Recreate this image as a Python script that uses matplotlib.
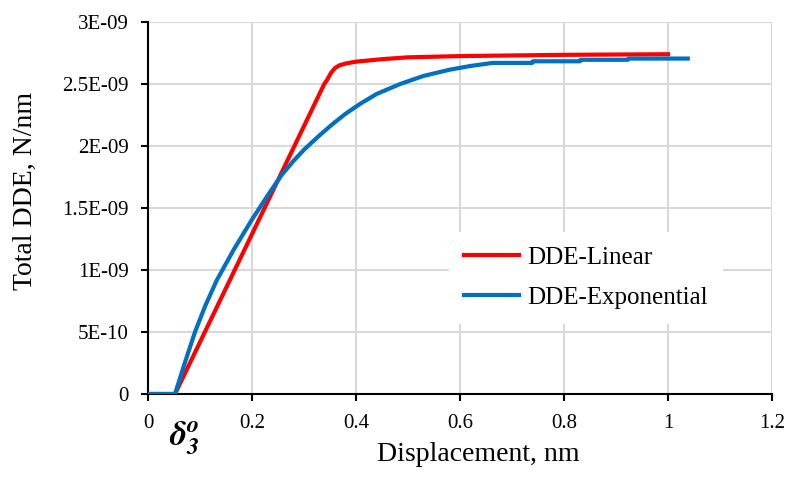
import numpy as np
import matplotlib.pyplot as plt

plt.rcParams['font.family'] = 'Liberation Serif'
plt.rcParams['mathtext.fontset'] = 'stix'

# displacement (nm) and total DDE (N/nm)
x_lin = [0, 0.052, 0.339, 0.344, 0.352, 0.360, 0.368, 0.38, 0.40, 0.45, 0.50, 0.60, 0.80, 1.0]
y_lin = [0, 0, 2.50e-9, 2.53e-9, 2.59e-9, 2.63e-9, 2.65e-9, 2.665e-9, 2.68e-9, 2.70e-9,
         2.715e-9, 2.725e-9, 2.735e-9, 2.74e-9]

x_exp = [0, 0.052, 0.07, 0.0904, 0.11, 0.132, 0.165, 0.1994, 0.23, 0.257, 0.28, 0.30,
         0.331, 0.356, 0.38, 0.408, 0.44, 0.485, 0.53, 0.58, 0.62, 0.663,
         0.739, 0.740, 0.831, 0.832, 0.923, 0.924, 1.038]
y_exp = [0, 0, 0.24e-9, 0.5e-9, 0.71e-9, 0.915e-9, 1.165e-9, 1.403e-9, 1.6e-9, 1.766e-9,
         1.88e-9, 1.97e-9, 2.09e-9, 2.18e-9, 2.26e-9, 2.34e-9, 2.42e-9, 2.50e-9, 2.565e-9,
         2.615e-9, 2.645e-9, 2.67e-9, 2.67e-9, 2.683e-9, 2.683e-9, 2.695e-9, 2.695e-9,
         2.705e-9, 2.705e-9]

yticks = [0, 0.5e-9, 1e-9, 1.5e-9, 2e-9, 2.5e-9, 3e-9]
ytick_labels = ['0', '5E-10', '1E-09', '1.5E-09', '2E-09', '2.5E-09', '3E-09']
xticks = [0, 0.2, 0.4, 0.6, 0.8, 1, 1.2]
xtick_labels = ['0', '0.2', '0.4', '0.6', '0.8', '1', '1.2']

fig = plt.figure(figsize=(7.88, 4.82), dpi=100)
ax = fig.add_axes([0.1878, 0.1826, 0.7919, 0.7718])

ax.plot(x_lin, y_lin, color='#ff0000', lw=3, label='DDE-Linear', zorder=3,
        solid_joinstyle='round')
ax.plot(x_exp, y_exp, color='#0070c0', lw=3, label='DDE-Exponential', zorder=3,
        solid_joinstyle='round')

ax.set_xlim(0, 1.2)
ax.set_ylim(0, 3e-9)
ax.set_xticks(xticks)
ax.set_xticklabels(xtick_labels)
ax.set_yticks(yticks)
ax.set_yticklabels(ytick_labels)
ax.tick_params(labelsize=15, direction='out', length=5, width=1.5)
ax.tick_params(axis='x', pad=9.5)
ax.tick_params(axis='y', pad=9)
ax.grid(True, color='#d9d9d9', lw=1.5)
ax.set_axisbelow(True)
for s in ['top', 'right']:
    ax.spines[s].set_visible(False)
for s in ['left', 'bottom']:
    ax.spines[s].set_linewidth(1.5)

ax.set_xlabel('Displacement, nm', fontsize=20, va='center')
ax.xaxis.set_label_coords(0.53, -0.164)
ax.set_ylabel('Total DDE, N/nm', fontsize=20, va='center')
ax.yaxis.set_label_coords(-0.197, 0.546)

leg = ax.legend(loc='center', bbox_to_anchor=(0.702, 0.312), fontsize=18,
                frameon=True, facecolor='white', edgecolor='none', framealpha=1,
                fancybox=False, handlelength=2.2, handletextpad=0.3,
                labelspacing=0.7, borderpad=0.6)

ax.annotate(r'$\mathbfit{\delta_3^o}$', xy=(0.052, 0), xycoords='data',
            xytext=(7, -32), textcoords='offset points', ha='center', va='center',
            fontsize=25, annotation_clip=False)

fig.savefig('out.png', dpi=100)
